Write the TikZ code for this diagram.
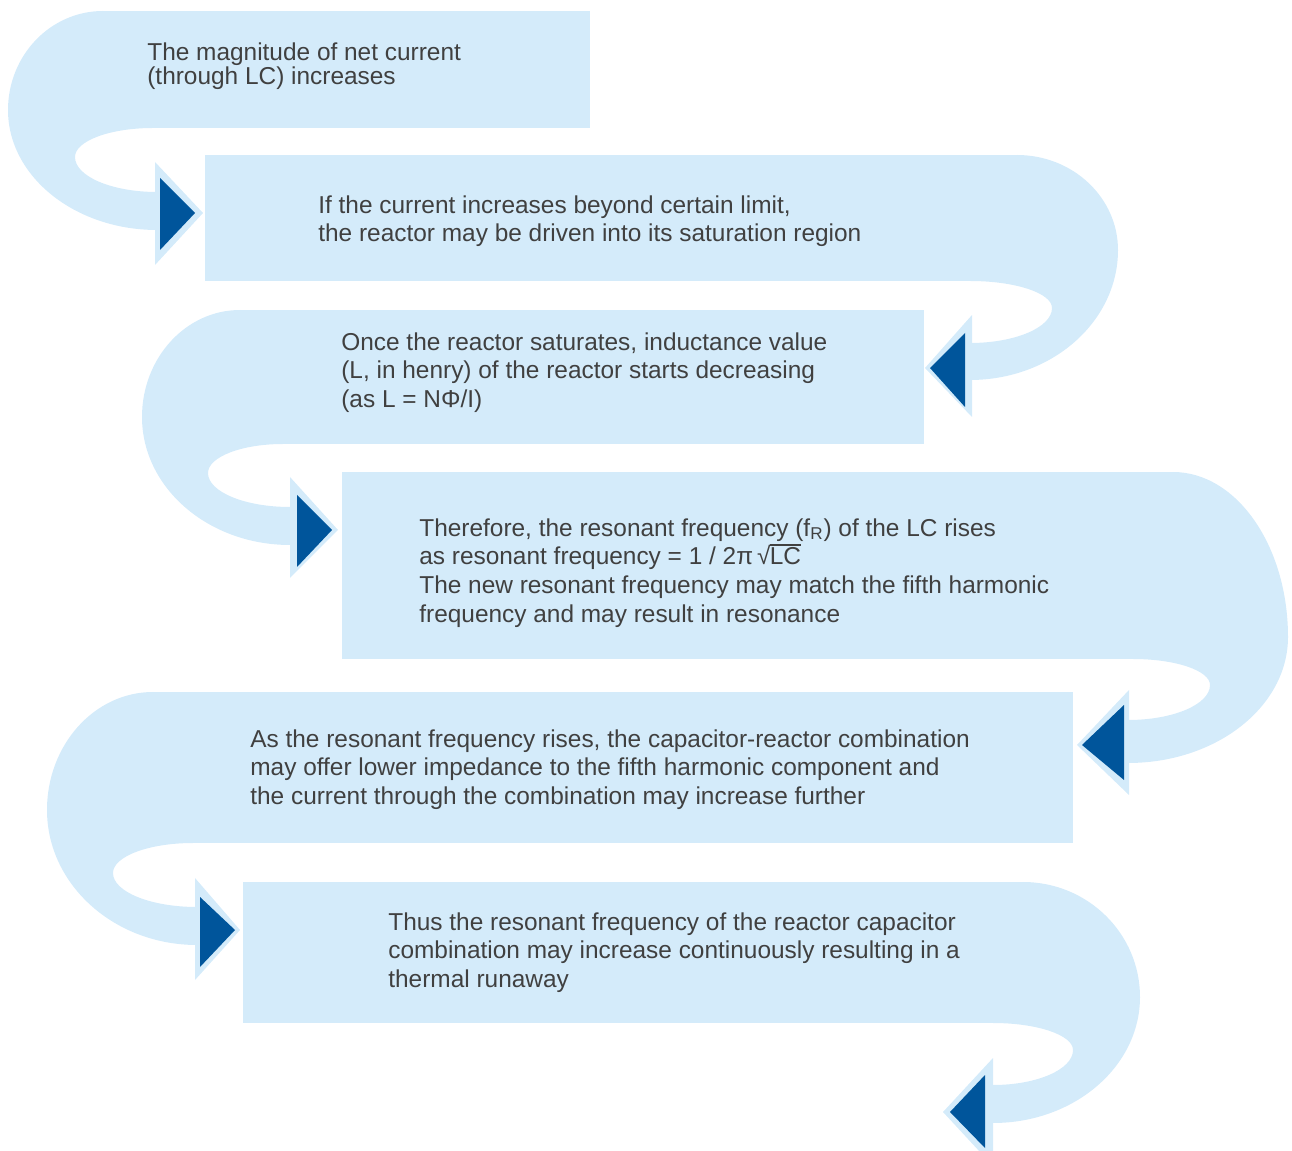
\documentclass[tikz,border=0pt]{standalone}
\usepackage{fontspec}
\setmainfont{Liberation Sans}
\usepackage{xcolor}
\usepackage{tikz}
\definecolor{ribbonblue}{RGB}{212,235,250}
\definecolor{arrowblue}{RGB}{0,85,155}
\definecolor{textgray}{RGB}{64,64,64}
\newcommand{\rootover}[1]{√\kern-0.5pt{\setbox0\hbox{#1}\rlap{\rule[\dimexpr\ht0+1.3pt\relax]{\wd0}{0.6pt}}\box0}}
\tikzset{
  box/.style={rectangle, fill=ribbonblue, draw=none, inner sep=0pt,
    anchor=north west},
  steptext/.style={anchor=north west, align=left, inner sep=0pt,
    text=textgray, font=\fontsize{13.9}{16.4}\selectfont},
  ribbon/.style={fill=ribbonblue, draw=none},
  halo/.style={fill=ribbonblue, draw=none},
  pointer/.style={fill=arrowblue, draw=none}
}

\begin{document}
\begin{tikzpicture}[x=0.02cm, y=-0.02cm]
  \useasboundingbox (0,0) rectangle (1292,1151);
  \clip (0,0) rectangle (1292,1151);

  % Step boxes
  \node[box, minimum width=9.8cm, minimum height=2.34cm] (b1) at (100,11) {};
  \node[box, minimum width=16.24cm, minimum height=2.52cm] (b2) at (205,155) {};
  \node[box, minimum width=13.68cm, minimum height=2.68cm] (b3) at (240,310) {};
  \node[box, minimum width=16.62cm, minimum height=3.74cm] (b4) at (342,472) {};
  \node[box, minimum width=18.4cm, minimum height=3.02cm] (b5) at (153,692) {};
  \node[box, minimum width=15.6cm, minimum height=2.82cm] (b6) at (243,882) {};

  % Ribbon from box 1 round the left side
  \fill[ribbon] (103,11) arc[start angle=-90, end angle=-180, x radius=95, y radius=99]
    arc[start angle=180, end angle=90, x radius=149, y radius=120]
    -- (157,192) arc[start angle=90, end angle=180, x radius=82, y radius=35]
    arc[start angle=180, end angle=270, x radius=78, y radius=29] -- cycle;

  % Ribbon from box 2 round the right side
  \fill[ribbon] (1017,155) arc[start angle=-90, end angle=0, x radius=101, y radius=95]
    arc[start angle=0, end angle=90, x radius=148, y radius=130]
    -- (970,343) arc[start angle=90, end angle=0, x radius=82, y radius=35]
    arc[start angle=0, end angle=-90, x radius=82, y radius=27] -- cycle;

  % Ribbon from box 3 round the left side
  \fill[ribbon] (240,310) arc[start angle=-90, end angle=-180, x radius=98, y radius=107]
    arc[start angle=180, end angle=90, x radius=148, y radius=128]
    -- (290,507) arc[start angle=90, end angle=180, x radius=82, y radius=34]
    arc[start angle=180, end angle=270, x radius=75, y radius=29] -- cycle;

  % Ribbon from box 4 round the right side
  \fill[ribbon] (1173,472) arc[start angle=-90, end angle=0, x radius=115, y radius=165]
    arc[start angle=0, end angle=90, x radius=160, y radius=126]
    -- (1128,720) arc[start angle=90, end angle=0, x radius=82, y radius=35]
    arc[start angle=0, end angle=-90, x radius=77, y radius=26] -- cycle;

  % Ribbon from box 5 round the left side
  \fill[ribbon] (153,692) arc[start angle=-90, end angle=-180, x radius=106, y radius=118]
    arc[start angle=180, end angle=90, x radius=150, y radius=135]
    -- (197,907) arc[start angle=90, end angle=180, x radius=84, y radius=34]
    arc[start angle=180, end angle=270, x radius=80, y radius=30] -- cycle;

  % Ribbon from box 6 round the right side
  \fill[ribbon] (1023,882) arc[start angle=-90, end angle=0, x radius=117, y radius=115]
    arc[start angle=0, end angle=90, x radius=147, y radius=126]
    -- (993,1085) arc[start angle=90, end angle=0, x radius=80, y radius=35]
    arc[start angle=0, end angle=-90, x radius=80, y radius=27] -- cycle;

  % Arrow heads (light halo, then dark triangle)
  \fill[halo] (155,162) -- (203,213) -- (155,265) -- cycle;
  \fill[pointer] (160,178) -- (195,213) -- (160,250) -- cycle;
  \fill[halo] (972,315) -- (925,368) -- (972,417) -- cycle;
  \fill[pointer] (965,333) -- (930,368) -- (965,407) -- cycle;
  \fill[halo] (290,477) -- (338,530) -- (290,578) -- cycle;
  \fill[pointer] (297,495) -- (332,530) -- (297,567) -- cycle;
  \fill[halo] (1129,690) -- (1077,745) -- (1129,795) -- cycle;
  \fill[pointer] (1124,705) -- (1082,745) -- (1124,780) -- cycle;
  \fill[halo] (195,878) -- (240,930) -- (195,980) -- cycle;
  \fill[pointer] (200,897) -- (235,930) -- (200,967) -- cycle;
  \fill[halo] (993,1058) -- (943,1112) -- (993,1166) -- cycle;
  \fill[pointer] (985,1075) -- (950,1112) -- (985,1148) -- cycle;

  % Texts
  \node[steptext, font=\fontsize{13.9}{14.2}\selectfont] (t1) at (147,42)
    {The magnitude of net current\\(through LC) increases};
  \node[steptext] (t2) at (318,195)
    {If the current increases beyond certain limit,\\the reactor may be driven into its saturation region};
  \node[steptext] (t3) at (341,332)
    {Once the reactor saturates, inductance value\\(L, in henry) of the reactor starts decreasing\\(as L = NΦ/I)};
  \node[steptext] (t4) at (419,518)
    {Therefore, the resonant frequency (f\textsubscript{R}) of the LC rises\\as resonant frequency = 1 / 2π\,\rootover{LC}\\The new resonant frequency may match the fifth harmonic\\frequency and may result in resonance};
  \node[steptext] (t5) at (250,729)
    {As the resonant frequency rises, the capacitor-reactor combination\\may offer lower impedance to the fifth harmonic component and\\the current through the combination may increase further};
  \node[steptext] (t6) at (388,912)
    {Thus the resonant frequency of the reactor capacitor\\combination may increase continuously resulting in a\\thermal runaway};
\end{tikzpicture}
\end{document}
